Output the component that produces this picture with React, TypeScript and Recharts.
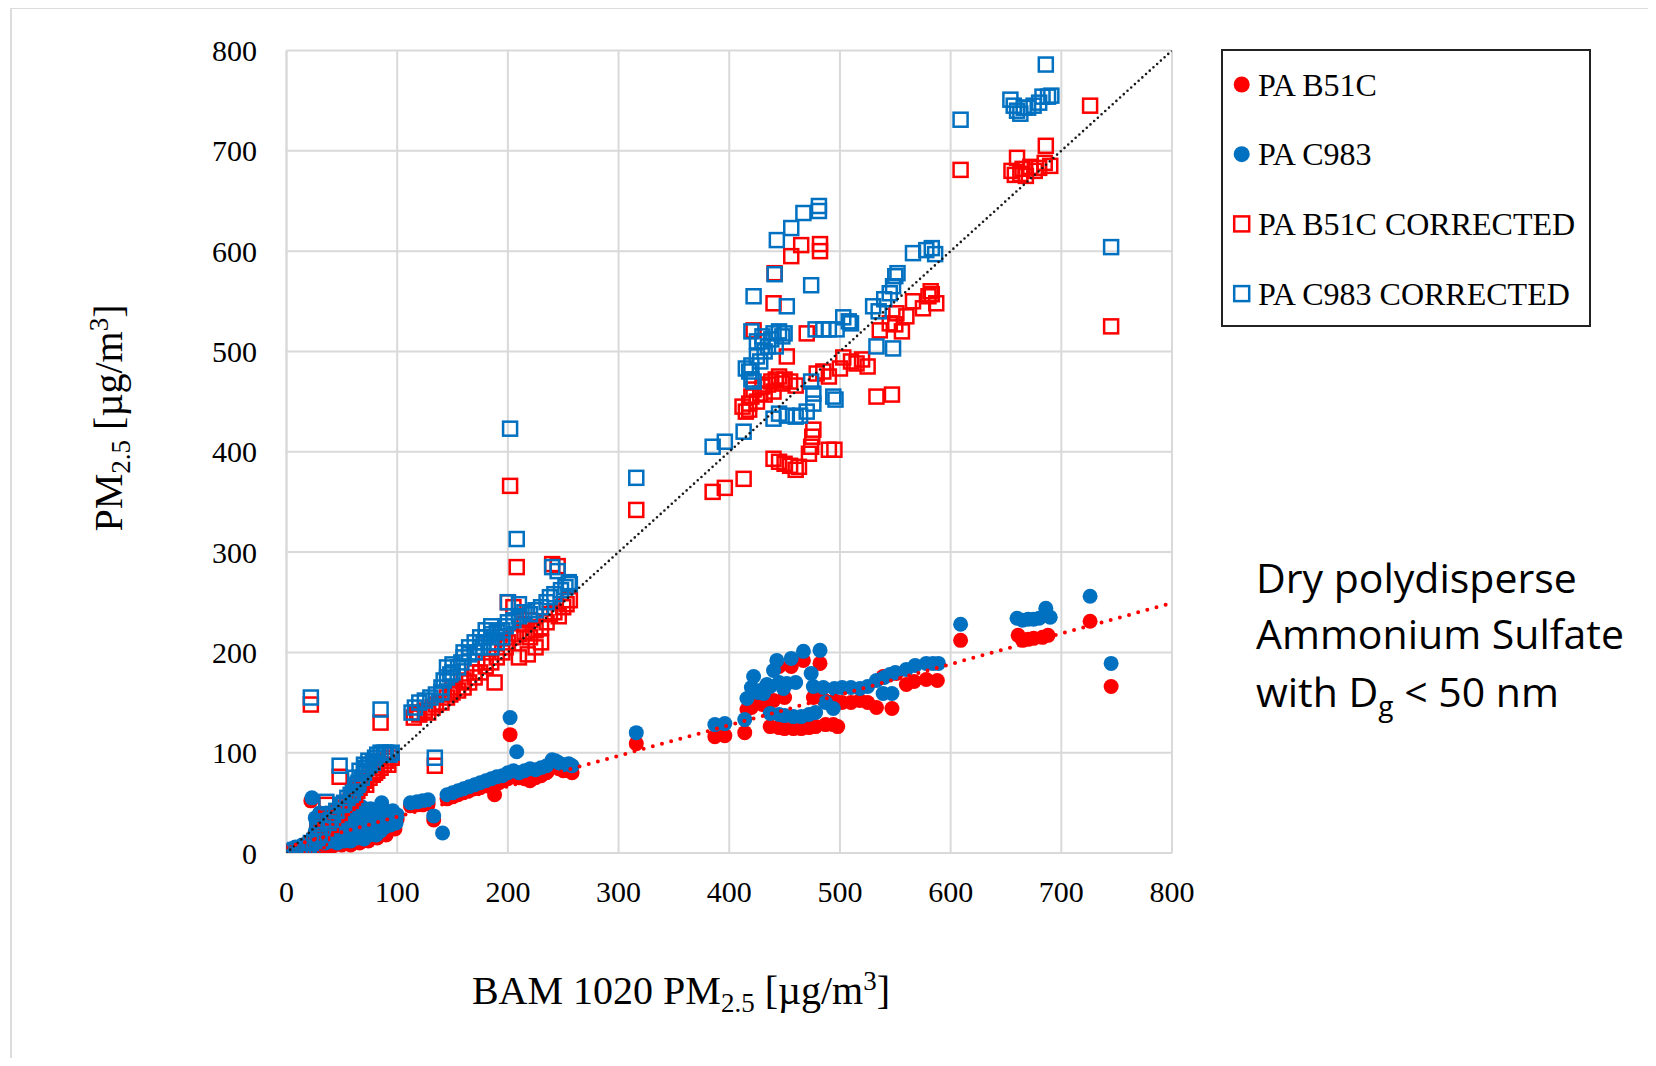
import React from 'react';
import { ScatterChart, Scatter, XAxis, YAxis, CartesianGrid } from 'recharts';

const RED = '#FF0000';
const BLUE = '#0070C0';
const GRID = '#d9d9d9';
const SERIF = "'Times New Roman', 'Liberation Serif', serif";

const X_TICKS = [0, 100, 200, 300, 400, 500, 600, 700, 800];
const Y_TICKS = [0, 100, 200, 300, 400, 500, 600, 700, 800];

const SERIES_NAMES = ['PA B51C', 'PA C983', 'PA B51C CORRECTED', 'PA C983 CORRECTED'];

const PA_B51C: [number, number][] = [
  [2,1],[5,2],[8,2],[12,3],[16,4],[20,4],
  [22,52],[27,26],[29,16],[31,10],[34,21],[37,12],[39,26],[42,14],[45,18],[48,11],[50,24],[52,16],[55,14],[58,21],[60,18],[62,26],[65,16],[68,22],[70,28],[72,20],[75,26],[78,31],[80,24],[83,34],[86,46],[88,28],[90,36],[93,32],[96,38],[100,34],
  [28,5],[35,6],[42,7],[50,8],[58,8],[66,10],[74,12],[82,15],[90,18],[98,24],
  [112,47],[118,48],[123,48],[128,49],[133,33],
  [145,54],[150,56],[155,58],[160,60],[165,62],[170,64],[175,65],[180,67],[185,69],[188,58],[192,70],[195,72],[200,74],[202,118],[205,76],[210,75],[215,74],[220,72],[225,75],[230,77],[235,80],[240,88],[243,86],[246,84],[250,82],[255,82],[258,80],
  [316,109],
  [387,116],[396,117],[414,120],[416,143],[420,145],[425,150],[430,148],[435,150],[440,152],[445,186],[450,155],[456,186],[467,192],[482,189],[437,126],[445,125],[450,124],[458,124],[465,124],[472,125],[478,126],[487,128],[494,128],[498,126],[476,155],[485,153],[495,152],[502,150],[510,150],[518,152],[525,150],[533,145],[547,144],[539,176],[551,179],[560,168],[567,171],[578,173],[588,172],[609,212],[661,217],[665,212],[670,213],[675,214],[683,215],[688,217],[726,231],[745,166],
];

const PA_C983: [number, number][] = [
  [0,2],[2,2],[4,4],[5,3],[8,6],[8,3],[10,2],[12,4],[14,8],[16,5],[18,5],[20,6],[22,9],[24,4],
  [23,55],[27,30],[29,20],[31,14],[34,25],[37,16],[39,30],[42,18],[45,22],[48,15],[50,28],[52,20],[55,18],[58,25],[60,22],[62,30],[65,20],[68,26],[70,32],[72,24],[75,30],[78,35],[80,28],[83,38],[86,50],[88,32],[90,40],[93,36],[96,42],[100,38],
  [26,12],[26,22],[26,35],[28,8],[30,28],[30,40],[32,18],[33,32],[35,10],[36,40],[38,22],[40,12],[41,36],[43,26],[44,42],[46,10],[47,32],[49,20],[50,40],[52,12],[53,30],[55,44],[56,22],[58,12],[59,36],[61,27],[62,44],[64,15],[65,34],[67,22],[68,46],[70,14],[71,38],[73,28],[75,18],[76,44],[78,25],[80,40],[81,18],[83,30],[85,22],[87,42],[89,26],[91,34],[94,28],[97,38],[99,30],
  [112,50],[118,51],[123,52],[128,53],[133,37],[141,20],
  [145,58],[150,60],[155,62],[160,64],[165,66],[170,68],[175,70],[180,72],[185,74],[190,76],[195,77],[200,80],[202,135],[205,82],[208,101],[210,80],[215,82],[220,84],[225,83],[230,85],[235,87],[240,93],[243,92],[246,90],[250,88],[255,89],[258,87],
  [316,120],
  [387,128],[396,129],[414,133],[416,154],[420,165],[422,176],[426,160],[428,162],[431,159],[434,168],[437,166],[440,182],[443,192],[445,170],[449,164],[452,169],[456,194],[460,170],[467,201],[482,202],[474,179],[437,139],[445,138],[450,137],[458,136],[465,136],[472,138],[478,140],[487,150],[476,166],[485,165],[495,164],[502,165],[510,165],[518,164],[525,166],[494,144],[533,172],[540,175],[545,178],[550,180],[539,159],[547,159],[560,183],[568,187],[578,189],[584,189],[589,189],[609,228],[660,234],[665,232],[670,233],[675,233],[680,234],[686,244],[690,235],[726,256],[745,189],
];

const PA_B51C_CORRECTED: [number, number][] = [
  [3,1],[8,2],[12,3],[15,1],[18,2],[20,3],
  [22,148],[22,8],[25,10],[28,12],[30,15],[32,20],[35,25],[36,48],[38,30],[40,28],[42,35],[45,38],[48,76],[48,40],[50,45],[52,48],[55,50],[58,52],[60,55],[62,58],[64,62],[66,65],[68,70],[70,72],[72,68],[75,75],[78,78],[80,80],[82,82],[85,130],[85,85],[88,88],[90,92],[92,88],[95,95],[134,87],
  [115,135],[118,140],[120,138],[125,142],[128,140],[132,145],[135,148],[140,150],[145,155],[148,158],[150,160],[155,162],[160,165],[165,170],[170,175],[175,180],[180,186],[185,190],[188,170],[190,195],[195,200],[198,205],[200,210],[202,366],[205,215],[208,285],[210,218],[215,220],[220,215],[225,222],[230,225],[235,230],[240,288],[245,286],[238,238],[242,240],[246,236],[250,245],[253,248],[256,252],[200,250],[205,245],[215,228],[220,232],[210,195],[225,205],[230,210],[218,198],
  [150,165],[160,172],[170,180],[180,190],
  [316,342],
  [385,360],[396,364],[413,373],[440,393],[445,390],[450,388],[455,386],[460,382],[463,385],[472,398],[474,405],[475,415],[476,422],[490,402],[495,402],[415,440],[418,448],[420,455],[422,462],[425,450],[428,458],[430,465],[432,457],[435,467],[438,470],[440,460],[442,472],[445,475],[448,468],[450,472],[455,470],[460,466],[452,495],[422,521],[470,518],[440,548],[441,578],[456,595],[465,606],[482,607],[482,600],[479,478],[485,480],[490,475],[500,483],[503,494],[510,490],[515,488],[520,492],[525,485],[533,455],[547,457],[536,521],[545,528],[550,527],[556,520],[551,538],[560,535],[566,550],[575,543],[580,555],[583,557],[587,548],[582,560],[412,445],[418,442],
  [609,681],[655,680],[658,676],[660,693],[663,677],[665,682],[668,675],[672,684],[676,680],[680,683],[685,688],[686,705],[690,685],[726,745],[745,525],
];

const PA_C983_CORRECTED: [number, number][] = [
  [3,2],[8,3],[12,4],[15,3],[18,4],[20,5],
  [22,155],[22,10],[25,12],[28,15],[30,18],[33,25],[36,51],[38,30],[40,33],[42,38],[45,42],[48,87],[50,48],[52,50],[55,55],[58,58],[60,60],[62,65],[65,70],[68,75],[70,80],[72,85],[75,88],[78,90],[80,95],[82,98],[85,143],[85,100],[88,100],[90,100],[93,98],[95,100],[134,95],
  [62,75],[66,82],[70,88],[74,92],[64,68],
  [113,140],[116,145],[120,150],[125,152],[130,155],[135,158],[140,160],[140,165],[142,172],[145,175],[148,178],[150,180],[155,185],[158,190],[160,195],[165,198],[170,200],[175,205],[178,210],[180,215],[185,218],[190,220],[195,222],[198,226],[200,230],[202,423],[208,313],[205,232],[210,236],[215,240],[220,238],[225,242],[230,245],[235,250],[240,285],[245,281],[255,270],[238,255],[242,258],[248,262],[252,265],[256,268],[185,205],[190,210],[195,215],[200,250],[210,248],
  [145,185],[150,188],[160,200],[165,205],[170,210],[175,215],[180,222],[185,226],
  [316,374],
  [385,405],[396,410],[413,420],[440,433],[445,438],[452,436],[460,435],[464,436],[470,440],[476,448],[476,458],[474,470],[494,455],[496,452],[418,480],[420,486],[422,470],[425,495],[428,490],[430,510],[432,500],[435,505],[438,512],[440,518],[442,505],[445,520],[448,515],[450,518],[420,520],[425,510],[430,515],[422,555],[452,545],[441,577],[474,566],[443,611],[456,623],[467,638],[481,645],[481,640],[478,522],[485,522],[490,522],[497,522],[503,534],[508,530],[510,528],[530,545],[535,540],[540,552],[545,558],[548,565],[550,575],[552,578],[566,598],[578,601],[583,603],[586,597],[533,505],[548,503],[420,472],[415,483],
  [609,731],[654,751],[657,745],[660,740],[663,737],[666,743],[670,743],[675,745],[680,748],[683,754],[688,754],[691,755],[686,786],[745,604],
];

const ONE_TO_ONE: [number, number][] = [[0, 0], [800, 800]];
const TREND_B51C: [number, number][] = [[0, 5.6], [800, 249.2]];

const toPts = (a: [number, number][]) => a.map(([x, y]) => ({ x, y }));

const RedCircle = (p: any) => <circle cx={p.cx} cy={p.cy} r={7.5} fill={RED} />;
const BlueCircle = (p: any) => <circle cx={p.cx} cy={p.cy} r={7.5} fill={BLUE} />;
const RedSquare = (p: any) => (
  <rect x={p.cx - 7} y={p.cy - 7} width={14} height={14} fill="none" stroke={RED} strokeWidth={2.5} />
);
const BlueSquare = (p: any) => (
  <rect x={p.cx - 7} y={p.cy - 7} width={14} height={14} fill="none" stroke={BLUE} strokeWidth={2.5} />
);
const NoShape = () => <g />;

const XTick = (p: any) => (
  <text x={p.x} y={p.y + 49} textAnchor="middle" fontSize={30} fontFamily={SERIF} fill="#000">
    {p.payload.value}
  </text>
);
const YTick = (p: any) => (
  <text x={p.x - 29.5} y={p.y + 10.5} textAnchor="end" fontSize={30} fontFamily={SERIF} fill="#000">
    {p.payload.value}
  </text>
);

const LegendBox = () => {
  const rows = [
    { name: SERIES_NAMES[0], kind: 'circle', color: RED },
    { name: SERIES_NAMES[1], kind: 'circle', color: BLUE },
    { name: SERIES_NAMES[2], kind: 'square', color: RED },
    { name: SERIES_NAMES[3], kind: 'square', color: BLUE },
  ];
  return (
    <svg width={370} height={278} style={{ display: 'block' }}>
      <rect x={1} y={1} width={368} height={276} fill="#fff" stroke="#222" strokeWidth={2} />
      {rows.map((r, i) => {
        const cy = 35.5 + i * 69.7;
        return (
          <g key={r.name}>
            {r.kind === 'circle' ? (
              <circle cx={20.7} cy={cy} r={8} fill={r.color} />
            ) : (
              <rect x={13.2} y={cy - 7.5} width={15} height={15} fill="none" stroke={r.color} strokeWidth={2.5} />
            )}
            <text x={37} y={cy + 11.2} fontSize={32} fontFamily={SERIF} fill="#000">
              {r.name}
            </text>
          </g>
        );
      })}
    </svg>
  );
};

export default function App() {
  return (
    <div style={{ position: 'relative', width: 1640, height: 1050 }}>
      <div
        style={{
          position: 'absolute',
          left: 2,
          top: -1,
          width: 1641,
          height: 1057,
          borderLeft: '2px solid #dcdcdc',
          borderTop: '2px solid #dcdcdc',
          borderRight: '2px solid #dcdcdc',
          boxSizing: 'border-box',
        }}
      />
      <ScatterChart
        width={1640}
        height={1050}
        margin={{ top: 42.5, right: 476, bottom: 0, left: 0 }}
      >
        <CartesianGrid stroke={GRID} strokeWidth={2} />
        <XAxis
          type="number"
          dataKey="x"
          domain={[0, 800]}
          ticks={X_TICKS}
          interval={0}
          allowDataOverflow
          axisLine={{ stroke: GRID, strokeWidth: 2 }}
          tickLine={false}
          tickSize={0}
          tickMargin={0}
          tick={<XTick />}
          height={205}
        />
        <YAxis
          type="number"
          dataKey="y"
          domain={[0, 800]}
          ticks={Y_TICKS}
          interval={0}
          allowDataOverflow
          axisLine={{ stroke: GRID, strokeWidth: 2 }}
          tickLine={false}
          tickSize={0}
          tickMargin={0}
          tick={<YTick />}
          width={278.5}
        />
        <Scatter name={SERIES_NAMES[0]} data={toPts(PA_B51C)} shape={RedCircle} isAnimationActive={false} />
        <Scatter name={SERIES_NAMES[1]} data={toPts(PA_C983)} shape={BlueCircle} isAnimationActive={false} />
        <Scatter name={SERIES_NAMES[2]} data={toPts(PA_B51C_CORRECTED)} shape={RedSquare} isAnimationActive={false} />
        <Scatter name={SERIES_NAMES[3]} data={toPts(PA_C983_CORRECTED)} shape={BlueSquare} isAnimationActive={false} />
        <Scatter
          data={toPts(ONE_TO_ONE)}
          shape={NoShape}
          line={{ stroke: '#1a1a1a', strokeWidth: 2.6, strokeDasharray: '0 5', strokeLinecap: 'round' }}
          legendType="none"
          isAnimationActive={false}
        />
        <Scatter
          data={toPts(TREND_B51C)}
          shape={NoShape}
          line={{ stroke: RED, strokeWidth: 4, strokeDasharray: '0 9.5', strokeLinecap: 'round' }}
          legendType="none"
          isAnimationActive={false}
        />
      </ScatterChart>
      <div style={{ position: 'absolute', left: 1213, top: 41, width: 370, height: 278 }}>
        <LegendBox />
      </div>
      <svg
        width={1640}
        height={1050}
        style={{ position: 'absolute', left: 0, top: 0, pointerEvents: 'none' }}
      >
        <text x={673} y={996} textAnchor="middle" fontSize={40} fontFamily={SERIF} fill="#000">
          BAM 1020 PM
          <tspan fontSize={27} dy={8}>2.5</tspan>
          <tspan dy={-8}> [µg/m</tspan>
          <tspan fontSize={27} dy={-14}>3</tspan>
          <tspan dy={14}>]</tspan>
        </text>
        <text
          x={113.7}
          y={410}
          textAnchor="middle"
          fontSize={40}
          fontFamily={SERIF}
          fill="#000"
          transform="rotate(-90 113.7 410)"
        >
          PM
          <tspan fontSize={27} dy={8}>2.5</tspan>
          <tspan dy={-8}> [µg/m</tspan>
          <tspan fontSize={27} dy={-14}>3</tspan>
          <tspan dy={14}>]</tspan>
        </text>
        <text fontSize={41} fontFamily="'Open Sans', sans-serif" fill="#000">
          <tspan x={1248} y={584.7}>Dry polydisperse</tspan>
          <tspan x={1248} y={641}>Ammonium Sulfate</tspan>
          <tspan x={1248} y={698.7}>
            with D<tspan fontSize={28} dy={9}>g</tspan>
            <tspan dy={-9}> &lt; 50 nm</tspan>
          </tspan>
        </text>
      </svg>
    </div>
  );
}
